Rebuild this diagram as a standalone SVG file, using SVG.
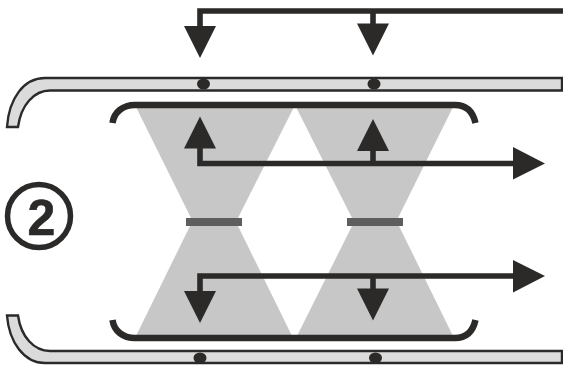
<svg xmlns="http://www.w3.org/2000/svg" width="563" height="367" viewBox="0 0 563 367">
<style>
.pipe{fill:#dadbda;stroke:#2b2a29;stroke-width:2.4}
.dot,.head{fill:#2b2a29}
.cone{fill:#c6c7c6}
.bar{fill:#5e5e5e}
.bracket{fill:none;stroke:#2b2a29;stroke-width:6.500}
.line{fill:none;stroke:#2b2a29;stroke-width:5.600;stroke-linejoin:miter}
.num{font-family:"Liberation Sans",Arial,sans-serif;font-weight:bold;font-size:50px;fill:#2b2a29;stroke:#2b2a29;stroke-width:.6;text-anchor:middle}
</style>
<rect width="563" height="367" fill="#fff"/>
<g id="pipe-top">
<path class="pipe" d="M7 127C9 98 24 78 45 78H562V90.500H50C34 90.500 21 105 18 127Z"/>
<ellipse class="dot" cx="203.500" cy="84" rx="6.500" ry="5.500"/>
<ellipse class="dot" cx="374" cy="84" rx="6.500" ry="5.500"/>
</g>
<g id="pipe-bottom">
<path class="pipe" d="M7 315.500C9 342 24 363 45 363H562V351H50C34 351 21 337 18 315.500Z"/>
<ellipse class="dot" cx="200" cy="358" rx="6.500" ry="5.500"/>
<ellipse class="dot" cx="375.500" cy="358" rx="6.500" ry="5.500"/>
</g>
<g id="cones">
<path class="cone" d="M136 107H294L238 218H191Z"/>
<path class="cone" d="M296 107H453L398 218H352Z"/>
<path class="cone" d="M190 226H238L292 336H136Z"/>
<path class="cone" d="M352 226H399L453 336H297Z"/>
</g>
<g id="nozzle-left"><rect class="bar" x="186" y="218" width="56" height="8"/></g>
<g id="nozzle-right"><rect class="bar" x="347" y="218" width="56" height="8"/></g>
<g id="bracket-top"><path class="bracket" d="M112.500 123C114 112 123 105 135 105H455C467 105 473 112 475.500 123"/></g>
<g id="bracket-bottom"><path class="bracket" d="M112.500 320C114 331 123 338 135 338H455C467 338 473 331 475.500 320"/></g>
<g id="connectors">
<path class="line" d="M563 11H200V27"/>
<path class="line" d="M373 11V25"/>
<path class="head" d="M184 26H216L200 58Z"/>
<path class="head" d="M357 23.500H389L373 55.500Z"/>
<path class="line" d="M200 147V163.500H515"/>
<path class="line" d="M373 150V163.500"/>
<path class="head" d="M184 148.500H216L200 116.500Z"/>
<path class="head" d="M357 151H389L373 119Z"/>
<path class="head" d="M513 147V179.500L545 163.500Z"/>
<path class="line" d="M200 292V276H515"/>
<path class="line" d="M373 276V290"/>
<path class="head" d="M184 291H216L200 323Z"/>
<path class="head" d="M357 288.500H389L373 320.500Z"/>
<path class="head" d="M513 260V292.500L545 276Z"/>
</g>
<g id="label">
<circle cx="39" cy="216" r="31.500" fill="#fff" stroke="#2b2a29" stroke-width="5.500"/>
<text class="num" x="41.500" y="234.500">2</text>
</g>
</svg>
